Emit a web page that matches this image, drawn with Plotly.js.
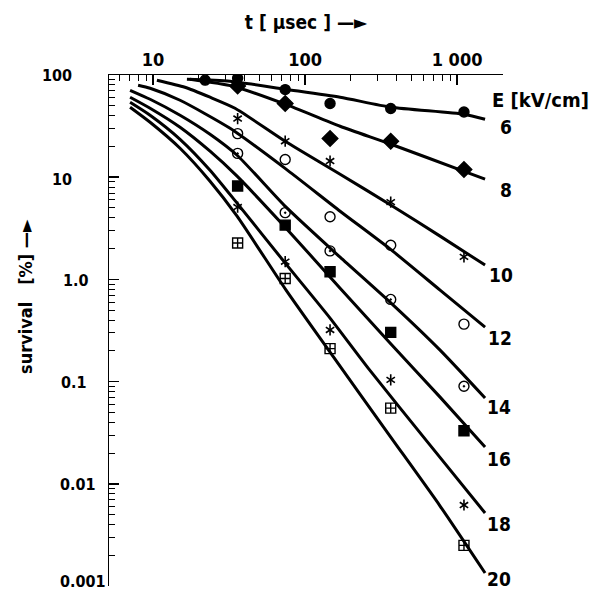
<!DOCTYPE html>
<html><head><meta charset="utf-8">
<script src="https://cdn.plot.ly/plotly-3.0.1.min.js"></script>
<style>html,body{margin:0;padding:0;background:#fff}</style>
</head><body><div id="chart" style="width:605px;height:595px"></div>
<script>
// ---------- data ----------
const fieldStrengths = [6, 8, 10, 12, 14, 16, 18, 20];      // E [kV/cm]
const fieldLabels    = ['6', '8', '10', '12', '14', '16', '18', '20'];
const xTickVals = [10, 100, 1000];
const xTickText = ['10', '100', '1 000'];
const yTickVals = [100, 10, 1, 0.1, 0.01, 0.001];
const yTickText = ['100', '10', '1.0', '0.1', '0.01', '0.001'];

// measured survival points (t in µs, survival in %)
const ptT_E6  = [22, 36, 74, 146, 366, 1110];
const ptS_E6  = [89, 93, 72, 52.6, 47, 43.5];
const ptT     = [36, 74, 146, 366, 1110];
const ptS_E8  = [78, 52.6, 23.9, 22.5, 11.9];
const ptS_E10 = [37.5, 22.5, 14.4, 5.7, 1.66];
const ptS_E12 = [26.7, 14.9, 4.1, 2.16, 0.365];
const ptS_E14 = [17.1, 4.5, 1.9, 0.637, 0.090];
const ptS_E16 = [8.2, 3.4, 1.19, 0.303, 0.033];
const ptS_E18 = [5.1, 1.49, 0.32, 0.104, 0.0062];
const ptS_E20 = [2.27, 1.02, 0.21, 0.055, 0.0025];

// fitted curves
const fitT_E6  = [16.7, 32.1, 73.9, 170, 368, 1112, 1528];
const fitS_E6  = [90.8, 86.9, 72.6, 60.6, 48.4, 41.3, 36.9];
const fitT_E8  = [17.5, 33.6, 73.9, 170, 368, 1112, 1528];
const fitS_E8  = [90.8, 77.6, 51.8, 31.5, 21.0, 11.4, 9.56];
const fitT_E10 = [10.6, 16.2, 23.7, 34.6, 73.9, 170, 368, 773, 1528];
const fitS_E10 = [88.9, 75.9, 60.6, 47.3, 22.5, 10.7, 5.32, 2.65, 1.38];
const fitT_E12 = [7.97, 9.56, 15.05, 32.1, 73.9, 170, 357, 773, 1528];
const fitS_E12 = [79.4, 74.2, 56.6, 30.1, 12.2, 4.65, 2.02, 0.785, 0.341];
const fitT_E14 = [7.06, 9.56, 15.05, 23.7, 35.7, 75, 170, 362, 773, 1528];
const fitS_E14 = [70.9, 57.9, 40.4, 26.3, 16.4, 5.09, 1.65, 0.599, 0.203, 0.069];
const fitT_E16 = [7.06, 9.56, 15.05, 23.7, 35.7, 75, 170, 362, 773, 1528];
const fitS_E16 = [60.6, 47.3, 30.8, 17.96, 10.23, 3.17, 0.821, 0.238, 0.0705, 0.0229];
const fitT_E18 = [7.06, 9.56, 15.05, 23.7, 35.7, 75, 146, 260, 664, 1528];
const fitS_E18 = [54.1, 40.4, 23.5, 11.7, 5.57, 1.41, 0.418, 0.1355, 0.0239, 0.00518];
const fitT_E20 = [7.06, 9.56, 15.05, 23.7, 35.7, 75, 146, 362, 773, 1528];
const fitS_E20 = [48.4, 34.5, 19.2, 9.14, 4.16, 0.785, 0.194, 0.0293, 0.00606, 0.00134];

// ---------- styling ----------
const FONT = 'DejaVu Sans Condensed, Liberation Sans Narrow, Arial Narrow, sans-serif';
const fitT = [fitT_E6, fitT_E8, fitT_E10, fitT_E12, fitT_E14, fitT_E16, fitT_E18, fitT_E20];
const fitS = [fitS_E6, fitS_E8, fitS_E10, fitS_E12, fitS_E14, fitS_E16, fitS_E18, fitS_E20];
const pT = [ptT_E6, ptT, ptT, ptT, ptT, ptT, ptT, ptT];
const pS = [ptS_E6, ptS_E8, ptS_E10, ptS_E12, ptS_E14, ptS_E16, ptS_E18, ptS_E20];
const symbols = ['circle', 'diamond', 'star6', 'circle-open', 'circle-open-dot', 'square', 'star6', 'square-cross-open'];
const symSize = [10, 12, 10, 10, 10, 10, 10, 10];
const labelDx = [21, 21, 16, 15, 14, 14, 14, 14];
const labelDy = [-8, -11, -10, -11, -9, -12, -11, -6];
const yLabelLeftPx = [40, 50, 61, 59, 58, 58];
const yLabelDy = [0, -2, -1, -1, -1, 5];

const traces = [];
fieldStrengths.forEach((E, i) => {
  traces.push({
    x: fitT[i], y: fitS[i], type: 'scatter', mode: 'lines', name: E + ' kV/cm',
    line: {color: '#000', width: 3, shape: 'spline', smoothing: 0.6},
    hoverinfo: 'skip', showlegend: false
  });
});
fieldStrengths.forEach((E, i) => {
  const base = {x: pT[i], y: pS[i], type: 'scatter', mode: 'markers', showlegend: false, name: E + ' kV/cm data'};
  if (symbols[i] === 'star6') {
    ['y-up-open', 'y-down-open'].forEach(s => traces.push(Object.assign({}, base, {
      marker: {symbol: s, size: 7, color: '#000', line: {color: '#000', width: 1.6}}
    })));
  } else {
    traces.push(Object.assign({}, base, {
      marker: {symbol: symbols[i], size: symSize[i], color: '#000', line: {color: '#000', width: 1.4}}
    }));
  }
});

// minor ticks
const xMinor = [];
[1, 10, 100].forEach(d => { for (let k = 2; k <= 9; k++) { const v = k * d; if (v >= 6 && v < 1000) xMinor.push(v); } });
const yMinor = [];
[0.001, 0.01, 0.1, 1, 10].forEach(d => { for (let k = 2; k <= 9; k++) yMinor.push(k * d); });

const L = 109, R = 503, T = 75, B = 586;
const pw = R - L, ph = B - T;

const annotations = [];
yTickText.forEach((txt, i) => annotations.push({
  text: txt, xref: 'paper', yref: 'y', x: (yLabelLeftPx[i] - L) / pw, y: Math.log10(yTickVals[i]),
  yshift: yLabelDy[i],
  xanchor: 'left', yanchor: 'middle', showarrow: false,
  font: {family: FONT, size: 16, color: '#000', weight: 'bold'}
}));
fieldLabels.forEach((lab, i) => {
  const tt = fitT[i], ss = fitS[i];
  annotations.push({
    text: lab, xref: 'x', yref: 'y',
    x: Math.log10(tt[tt.length - 1]), y: Math.log10(ss[ss.length - 1]),
    xshift: labelDx[i], yshift: labelDy[i], xanchor: 'center', yanchor: 'middle', showarrow: false,
    font: {family: FONT, size: 19, color: '#000', weight: 'bold'}
  });
});
annotations.push({
  text: 'E [kV/cm]', xref: 'paper', yref: 'paper', x: (490 - L) / pw, y: 1 - (100 - T) / ph,
  xanchor: 'left', yanchor: 'middle', showarrow: false,
  font: {family: FONT, size: 20, color: '#000', weight: 'bold'}
});
annotations.push({
  text: 'survival   [%] —►', xref: 'paper', yref: 'paper', x: (25 - L) / pw, y: 1 - (297 - T) / ph,
  xanchor: 'center', yanchor: 'middle', textangle: -90, showarrow: false,
  font: {family: FONT, size: 18, color: '#000', weight: 'bold'}
});

const layout = {
  width: 605, height: 595,
  margin: {l: L, r: 605 - R, t: T, b: 595 - B, pad: 0},
  paper_bgcolor: '#fff', plot_bgcolor: '#fff',
  showlegend: false,
  xaxis: {
    type: 'log', range: [Math.log10(5.13), Math.log10(2005)], side: 'top',
    showline: true, linecolor: '#000', linewidth: 1.5, mirror: false,
    ticks: 'inside', ticklen: 10, tickwidth: 1.5, tickcolor: '#000',
    tickmode: 'array', tickvals: xTickVals, ticktext: xTickText,
    tickfont: {family: FONT, size: 18, color: '#000', weight: 'bold'},
    showgrid: false, zeroline: false, automargin: false,
    minor: {tickmode: 'array', tickvals: xMinor, ticks: 'inside', ticklen: 6, tickwidth: 1, tickcolor: '#000', showgrid: false},
    title: {text: 't [ μsec ] —►', standoff: 14, font: {family: FONT, size: 19, color: '#000', weight: 'bold'}}
  },
  yaxis: {
    type: 'log', range: [-3, 2],
    showline: true, linecolor: '#000', linewidth: 1.5,
    ticks: 'inside', ticklen: 10, tickwidth: 1.5, tickcolor: '#000',
    tickmode: 'array', tickvals: yTickVals, showticklabels: false,
    showgrid: false, zeroline: false, automargin: false,
    minor: {tickmode: 'array', tickvals: yMinor, ticks: 'inside', ticklen: 6, tickwidth: 1, tickcolor: '#000', showgrid: false}
  },
  annotations: annotations
};

Plotly.newPlot('chart', traces, layout, {displayModeBar: false, staticPlot: true});
</script>
</body></html>
